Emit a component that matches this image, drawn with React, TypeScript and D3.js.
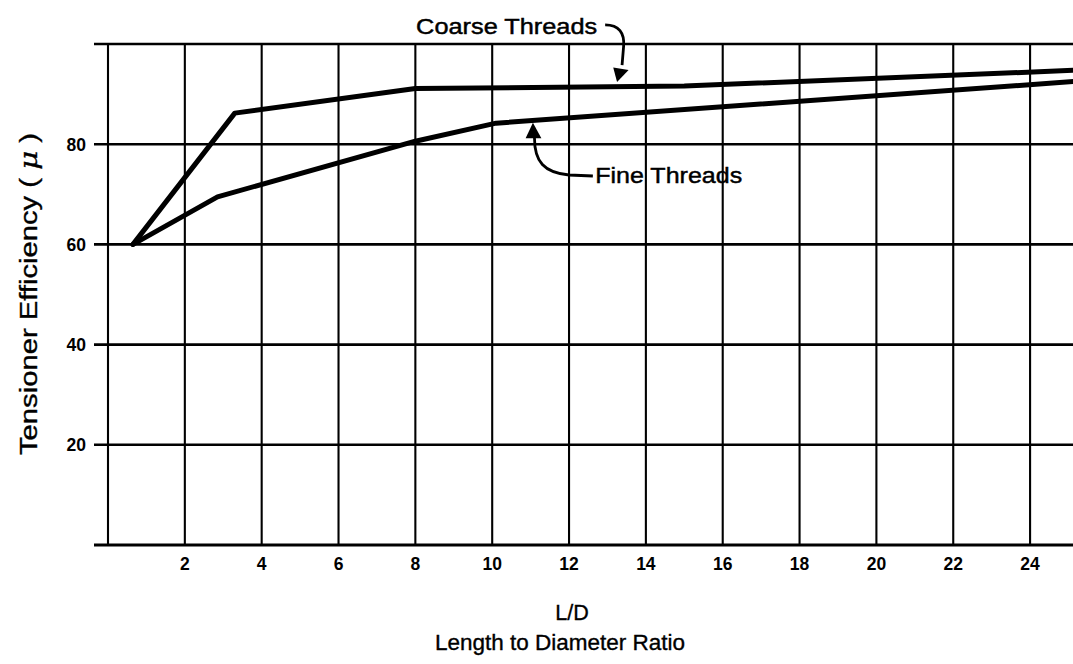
import { useRef, useEffect } from 'react';
import * as d3 from 'd3';

// L/D values and tensioner efficiency (%)
const coarseLD = [0.65, 3.3, 8, 15, 25.3];
const coarseEff = [60, 86.2, 91.1, 91.6, 94.8];
const fineLD = [0.65, 2.85, 8, 10.1, 25.3];
const fineEff = [60, 69.5, 80.6, 84.2, 92.6];

const xTicks = [2, 4, 6, 8, 10, 12, 14, 16, 18, 20, 22, 24];
const xGrid = [0, 2, 4, 6, 8, 10, 12, 14, 16, 18, 20, 22, 24];
const yTicks = [20, 40, 60, 80];
const yGrid = [0, 20, 40, 60, 80, 100];

const WIDTH = 1073;
const HEIGHT = 664;
const FONT = '"Liberation Sans", Arial, Helvetica, sans-serif';

export default function App() {
  const svgRef = useRef<SVGSVGElement>(null);

  useEffect(() => {
    document.body.style.margin = '0';
    if (!svgRef.current) return;
    const svg = d3.select(svgRef.current);
    svg.selectAll('*').remove();

    // scales: x=0 at 108px, 2 units ~ 77px; y 0..100 over 545..44
    const x = d3.scaleLinear().domain([0, 25]).range([108, 1068.5]);
    const y = d3.scaleLinear().domain([0, 100]).range([545, 44]);

    const defs = svg.append('defs');
    defs.append('clipPath').attr('id', 'plot-clip')
      .append('rect')
      .attr('x', 90).attr('y', 30)
      .attr('width', WIDTH - 90).attr('height', 530);

    // horizontal grid
    const gridG = svg.append('g');
    gridG.selectAll('line.h')
      .data(yGrid)
      .enter().append('line')
      .attr('class', 'h')
      .attr('x1', 94).attr('x2', WIDTH)
      .attr('y1', d => y(d)).attr('y2', d => y(d))
      .attr('stroke', '#000')
      .attr('stroke-width', d => (d === 0 ? 3.2 : 2.6));

    // vertical grid
    gridG.selectAll('line.v')
      .data(xGrid)
      .enter().append('line')
      .attr('class', 'v')
      .attr('x1', d => x(d)).attr('x2', d => x(d))
      .attr('y1', y(100)).attr('y2', y(0))
      .attr('stroke', '#000')
      .attr('stroke-width', 2.1);

    // x tick labels
    svg.append('g').selectAll('text')
      .data(xTicks)
      .enter().append('text')
      .attr('x', d => x(d))
      .attr('y', 570)
      .attr('text-anchor', 'middle')
      .attr('font-family', FONT)
      .attr('font-size', 17.5)
      .attr('font-weight', 'bold')
      .text(d => d);

    // y tick labels
    svg.append('g').selectAll('text')
      .data(yTicks)
      .enter().append('text')
      .attr('x', 86)
      .attr('y', d => y(d))
      .attr('dy', '0.36em')
      .attr('text-anchor', 'end')
      .attr('font-family', FONT)
      .attr('font-size', 17.5)
      .attr('font-weight', 'bold')
      .text(d => d);

    // series lines
    const line = d3.line<[number, number]>()
      .x(d => x(d[0]))
      .y(d => y(d[1]));

    const coarse = coarseLD.map((v, i) => [v, coarseEff[i]] as [number, number]);
    const fine = fineLD.map((v, i) => [v, fineEff[i]] as [number, number]);

    const seriesG = svg.append('g').attr('clip-path', 'url(#plot-clip)');
    [coarse, fine].forEach(s => {
      seriesG.append('path')
        .attr('d', line(s))
        .attr('fill', 'none')
        .attr('stroke', '#000')
        .attr('stroke-width', 5)
        .attr('stroke-linejoin', 'round')
        .attr('stroke-linecap', 'round');
    });

    // annotations
    const annG = svg.append('g');
    annG.append('text')
      .attr('x', x(8.02)).attr('y', y(102.0))
      .attr('font-family', FONT)
      .attr('font-size', 21.5)
      .attr('stroke', '#000').attr('stroke-width', 0.45)
      .attr('textLength', 181)
      .attr('lengthAdjust', 'spacingAndGlyphs')
      .text('Coarse Threads');

    const cp = d3.path();
    cp.moveTo(x(12.94), y(103.8));
    cp.bezierCurveTo(x(13.3), y(103.8), x(13.45), y(102.2), x(13.42), y(99.5));
    cp.lineTo(x(13.38), y(95.8));
    annG.append('path')
      .attr('d', cp.toString())
      .attr('fill', 'none').attr('stroke', '#000').attr('stroke-width', 2.8);
    const ct = d3.path();
    ct.moveTo(x(13.25), y(92.4));
    ct.lineTo(x(13.15), y(95.3));
    ct.lineTo(x(13.55), y(94.8));
    ct.closePath();
    annG.append('path').attr('d', ct.toString()).attr('fill', '#000');

    annG.append('text')
      .attr('x', x(12.68)).attr('y', y(72.3))
      .attr('font-family', FONT)
      .attr('font-size', 22.5)
      .attr('stroke', '#000').attr('stroke-width', 0.45)
      .attr('textLength', 147)
      .attr('lengthAdjust', 'spacingAndGlyphs')
      .text('Fine Threads');

    const fp = d3.path();
    fp.moveTo(x(12.62), y(73.65));
    fp.lineTo(x(12.0), y(73.85));
    fp.bezierCurveTo(x(11.35), y(74.3), x(11.1), y(76.5), x(11.1), y(81.3));
    annG.append('path')
      .attr('d', fp.toString())
      .attr('fill', 'none').attr('stroke', '#000').attr('stroke-width', 2.8);
    const ft = d3.path();
    ft.moveTo(x(11.06), y(84.3));
    ft.lineTo(x(10.87), y(81.2));
    ft.lineTo(x(11.28), y(81.2));
    ft.closePath();
    annG.append('path').attr('d', ft.toString()).attr('fill', '#000');

    // axis titles
    svg.append('text')
      .attr('x', 572).attr('y', 620)
      .attr('text-anchor', 'middle')
      .attr('font-family', FONT)
      .attr('font-size', 21.5)
      .attr('stroke', '#000').attr('stroke-width', 0.35)
      .text('L/D');

    svg.append('text')
      .attr('x', 560).attr('y', 650)
      .attr('text-anchor', 'middle')
      .attr('font-family', FONT)
      .attr('font-size', 21.5)
      .attr('stroke', '#000').attr('stroke-width', 0.35)
      .attr('textLength', 250)
      .attr('lengthAdjust', 'spacingAndGlyphs')
      .text('Length to Diameter Ratio');

    const yl = svg.append('text')
      .attr('transform', 'translate(37,294) rotate(-90)')
      .attr('text-anchor', 'middle')
      .attr('font-family', FONT)
      .attr('font-size', 23.5)
      .attr('stroke', '#000').attr('stroke-width', 0.35)
      .attr('textLength', 322)
      .attr('lengthAdjust', 'spacingAndGlyphs');
    yl.append('tspan').text('Tensioner Efficiency ( ');
    yl.append('tspan').attr('font-style', 'italic').attr('font-family', '"DejaVu Serif", serif').text('μ');
    yl.append('tspan').text(' )');
  }, []);

  return (
    <div style={{ position: 'absolute', left: 0, top: 0, background: '#fff' }}>
      <svg ref={svgRef} width={WIDTH} height={HEIGHT} style={{ display: 'block' }} />
    </div>
  );
}
